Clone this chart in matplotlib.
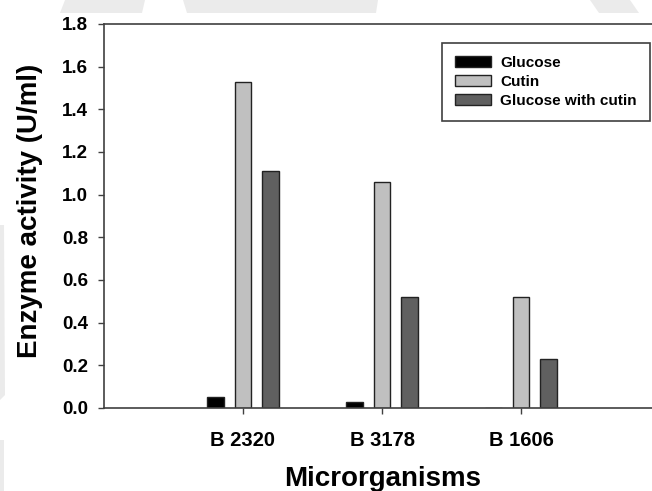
import numpy as np
import matplotlib.pyplot as plt
from matplotlib.patches import Polygon

plt.rcParams['font.family'] = ['Liberation Sans', 'DejaVu Sans']
plt.rcParams['font.weight'] = 'bold'
plt.rcParams['axes.labelweight'] = 'bold'

# enzyme activity per strain and carbon source
strains = ["B 2320", "B 3178", "B 1606"]
glucose = [0.05, 0.03, 0.0]
cutin = [1.53, 1.06, 0.52]
glucose_cutin = [1.11, 0.52, 0.23]

series = [("Glucose", glucose, "#000000"),
          ("Cutin", cutin, "#c0c0c0"),
          ("Glucose with cutin", glucose_cutin, "#606060")]

W, H = 652, 491
fig = plt.figure(figsize=(W / 100, H / 100), dpi=100)

# faint background shapes
bg = "#ebebeb"
shapes = [[(60, 13), (65, 0), (145, 0), (142, 13)],
          [(187, 13), (183, 0), (378, 0), (376, 13)],
          [(599, 13), (590, 0), (630, 0), (639, 13)],
          [(0, 225), (4, 225), (5, 395), (0, 400)],
          [(0, 440), (4, 440), (4, 491), (0, 491)]]
for pts in shapes:
    fig.patches.append(Polygon([(x / W, 1 - y / H) for x, y in pts],
                               closed=True, transform=fig.transFigure,
                               facecolor=bg, edgecolor='none', zorder=0))

ax = fig.add_axes([104 / W, 1 - 408 / H, 1 - 104 / W, (408 - 24) / H])
ax.set_facecolor('none')

x = np.arange(1, len(strains) + 1)
width = 0.12
offsets = [-0.2, 0.0, 0.2]
for (name, vals, col), off in zip(series, offsets):
    ax.bar(x + off, vals, width, color=col, edgecolor='#222222',
           linewidth=1.0, label=name)

ax.set_xlim(0, (W - 104) / 139)
ax.set_ylim(0, 1.8)
yt = np.arange(0, 1.81, 0.2)
ax.set_yticks(yt)
ax.set_yticklabels([f"{v:.1f}" for v in yt], fontsize=13.5)
ax.set_xticks(x)
ax.set_xticklabels(strains, fontsize=14.5)

for s in ['left', 'bottom', 'top']:
    ax.spines[s].set_color('#404040')
    ax.spines[s].set_linewidth(1.2)
ax.spines['right'].set_visible(False)
ax.tick_params(axis='y', direction='out', length=4.5, width=1, color='#404040', pad=7)
ax.tick_params(axis='x', direction='out', length=4.5, width=1, color='#404040', pad=12)

ax.set_ylabel("Enzyme activity (U/ml)", fontsize=20)
ax.set_xlabel("Microrganisms", fontsize=20)
ax.yaxis.set_label_coords(-0.112, 0.513)
ax.xaxis.set_label_coords(0.509, -0.151)

leg = ax.legend(loc='upper left', bbox_to_anchor=(442 / W, 1 - 43 / H),
                bbox_transform=fig.transFigure, fontsize=11, frameon=True,
                fancybox=False, framealpha=1, edgecolor='#404040',
                handlelength=2.35, handleheight=0.75, handletextpad=0.6,
                labelspacing=0.32, borderpad=0.85, borderaxespad=0)
leg.get_frame().set_linewidth(1.2)

fig.savefig("out.png", dpi=100)
